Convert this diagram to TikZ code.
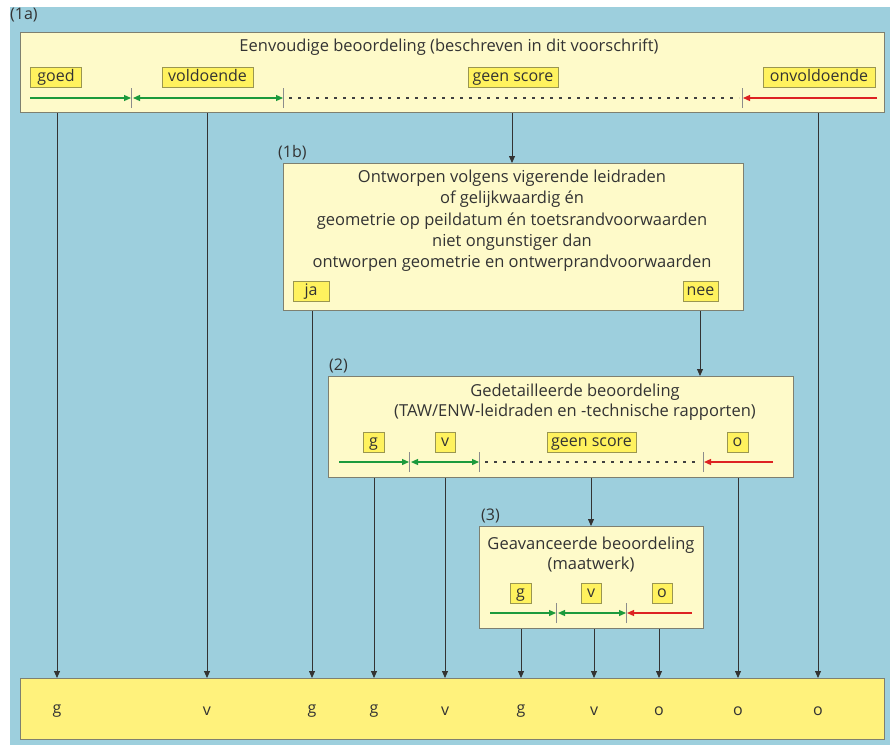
\documentclass[tikz,border=0pt]{standalone}
\usepackage{fontspec}
\setmainfont{Open Sans}
\usetikzlibrary{arrows.meta}
\definecolor{bgblue}{HTML}{9DCFDD}
\definecolor{paleyel}{HTML}{FEFAC9}
\definecolor{botyel}{HTML}{FFF27C}
\definecolor{tagyel}{HTML}{FFF25E}
\definecolor{tagedge}{HTML}{9A9650}
\definecolor{boxedge}{HTML}{7E8070}
\definecolor{txt}{HTML}{333333}
\definecolor{grn}{HTML}{1C9A3C}
\definecolor{rd}{HTML}{DD2222}
\tikzset{
  panel/.style={draw=boxedge, line width=1pt, fill=paleyel, anchor=north west, inner sep=0pt},
  botpanel/.style={draw=boxedge, line width=1pt, fill=botyel, anchor=north west, inner sep=0pt},
  title/.style={text=txt, font=\fontsize{16.5}{21.3}\selectfont, align=center, inner sep=0pt},
  lab/.style={text=txt, font=\fontsize{16}{18}\selectfont, inner sep=0pt, anchor=west},
  tag/.style={draw=tagedge, line width=0.8pt, fill=tagyel, text=txt, font=\fontsize{16}{18}\selectfont, inner sep=0pt, minimum height=20pt, text height=11pt, text depth=3pt, anchor=center},
  res/.style={text=txt, font=\fontsize{16}{18}\selectfont, inner sep=0pt},
  conn/.style={draw=black!80, line width=0.8pt, -{Triangle[length=7pt,width=6pt]}},
  tick/.style={draw=black!45, line width=0.8pt},
  gline/.style={draw=grn, line width=1.2pt},
  rline/.style={draw=rd, line width=1.2pt},
  gtip/.style={-{Triangle[length=7pt,width=6pt]}},
  dots/.style={draw=black!75, line width=1.3pt, dash pattern=on 2.5pt off 6.5pt},
}
\begin{document}
\begin{tikzpicture}[x=1pt,y=-1pt]
\useasboundingbox (0,0) rectangle (890,745);
\fill[white] (0,0) rectangle (890,745);
\fill[bgblue] (10,7) rectangle (890,745);

% ---------- box 1a ----------
\node[lab] (l1a) at (10,15) {(1a)};
\node[panel, minimum width=864pt, minimum height=80pt] (b1a) at (20,32) {};
\node[title] (t1a) at (449,47) {Eenvoudige beoordeling (beschreven in dit voorschrift)};
\node[tag, minimum width=51pt] (goed) at (56,77) {goed};
\node[tag, minimum width=91pt] (vold) at (207.5,77) {voldoende};
\node[tag, minimum width=90pt] (geen1) at (513,77) {geen score};
\node[tag, minimum width=112pt] (onv) at (819,77) {onvoldoende};
\coordinate (a0) at (30,98);
\coordinate (a1) at (131,98);
\coordinate (a2) at (283,98);
\coordinate (a3) at (742,98);
\coordinate (a4) at (877,98);
\draw[gline,gtip] (a0) -- (a1);
\draw[gline,{Triangle[length=7pt,width=6pt]}-{Triangle[length=7pt,width=6pt]}] ([xshift=2pt]a1) -- (a2);
\draw[dots] ([xshift=6pt]a2) -- ([xshift=-3pt]a3);
\draw[rline,gtip] (a4) -- ([xshift=1pt]a3);
\foreach \c in {a1,a2,a3} \draw[tick] ([yshift=-10pt]\c) -- ([yshift=10pt]\c);

% ---------- box 1b ----------
\node[lab] (l1b) at (278,153) {(1b)};
\node[panel, minimum width=460pt, minimum height=147pt] (b1b) at (283,163) {};
\node[title] (t1b) at (512,221) {Ontworpen volgens vigerende leidraden\\of gelijkwaardig én\\geometrie op peildatum én toetsrandvoorwaarden\\niet ongunstiger dan\\ontworpen geometrie en ontwerprandvoorwaarden};
\node[tag, minimum width=36pt] (ja) at (311,291) {ja};
\node[tag, minimum width=35pt] (nee) at (700.5,291) {nee};

% ---------- box 2 ----------
\node[lab] (l2) at (329,366) {(2)};
\node[panel, minimum width=465pt, minimum height=101pt] (b2) at (328,376) {};
\node[title, font=\fontsize{16.5}{20}\selectfont] (t2) at (575,402) {Gedetailleerde beoordeling\\(TAW/ENW-leidraden en -technische rapporten)};
\node[tag, minimum width=21pt] (g2) at (373.5,442) {g};
\node[tag, minimum width=20pt] (v2) at (445,442) {v};
\node[tag, minimum width=89pt] (geen2) at (591.5,442) {geen score};
\node[tag, minimum width=21pt] (o2) at (737.5,442) {o};
\coordinate (b0) at (339,462);
\coordinate (b1) at (409,462);
\coordinate (b2x) at (479,462);
\coordinate (b3) at (703,462);
\coordinate (b4) at (773,462);
\draw[gline,gtip] (b0) -- (b1);
\draw[gline,{Triangle[length=7pt,width=6pt]}-{Triangle[length=7pt,width=6pt]}] ([xshift=2pt]b1) -- (b2x);
\draw[dots] ([xshift=6pt]b2x) -- ([xshift=-3pt]b3);
\draw[rline,gtip] (b4) -- ([xshift=1pt]b3);
\foreach \c in {b1,b2x,b3} \draw[tick] ([yshift=-10pt]\c) -- ([yshift=10pt]\c);

% ---------- box 3 ----------
\node[lab] (l3) at (481,516) {(3)};
\node[panel, minimum width=224pt, minimum height=102pt] (b3box) at (479,526) {};
\node[title, font=\fontsize{16.5}{20}\selectfont] (t3) at (591,555) {Geavanceerde beoordeling\\(maatwerk)};
\node[tag, minimum width=21pt] (g3) at (520.5,593) {g};
\node[tag, minimum width=20pt] (v3) at (591,593) {v};
\node[tag, minimum width=20pt] (o3) at (662,593) {o};
\coordinate (c0) at (490,613);
\coordinate (c1) at (556,613);
\coordinate (c2) at (626,613);
\coordinate (c3) at (692,613);
\draw[gline,gtip] (c0) -- (c1);
\draw[gline,{Triangle[length=7pt,width=6pt]}-{Triangle[length=7pt,width=6pt]}] ([xshift=2pt]c1) -- (c2);
\draw[rline,gtip] (c3) -- ([xshift=1pt]c2);
\foreach \c in {c1,c2} \draw[tick] ([yshift=-10pt]\c) -- ([yshift=10pt]\c);

% ---------- bottom box ----------
\node[botpanel, minimum width=864pt, minimum height=61pt] (bot) at (20,678) {};
\foreach \x/\t/\n in {57/g/r1, 207/v/r2, 312/g/r3, 374/g/r4, 445/v/r5, 521/g/r6, 594/v/r7, 659/o/r8, 738/o/r9, 818/o/r10}{
  \coordinate (x\n) at (\x,0);
  \node[res] (\n) at (\x,711) {\t};
}

% ---------- connectors ----------
\draw[conn] (b1a.south -| xr1) -- (bot.north -| xr1);
\draw[conn] (b1a.south -| xr2) -- (bot.north -| xr2);
\draw[conn] (b1a.south -| xr10) -- (bot.north -| xr10);
\coordinate (m1) at (512,0);
\draw[conn] (b1a.south -| m1) -- (b1b.north -| m1);
\draw[conn] (b1b.south -| xr3) -- (bot.north -| xr3);
\coordinate (m2) at (700,0);
\draw[conn] (b1b.south -| m2) -- (b2.north -| m2);
\draw[conn] (b2.south -| xr4) -- (bot.north -| xr4);
\draw[conn] (b2.south -| xr5) -- (bot.north -| xr5);
\draw[conn] (b2.south -| xr9) -- (bot.north -| xr9);
\coordinate (m3) at (591,0);
\draw[conn] (b2.south -| m3) -- (b3box.north -| m3);
\draw[conn] (b3box.south -| xr6) -- (bot.north -| xr6);
\draw[conn] (b3box.south -| xr7) -- (bot.north -| xr7);
\draw[conn] (b3box.south -| xr8) -- (bot.north -| xr8);
\end{tikzpicture}
\end{document}
